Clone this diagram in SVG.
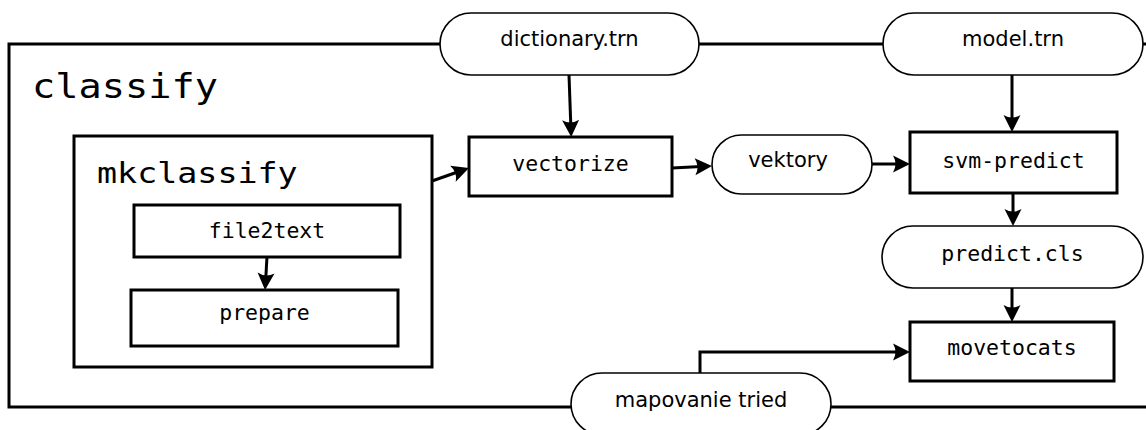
<svg xmlns="http://www.w3.org/2000/svg" width="1146" height="430" viewBox="0 0 1146 430">
<style>
.box{fill:#fff;stroke:#000;stroke-width:3}
.frame{fill:none;stroke:#000;stroke-width:3}
.pill{fill:#fff;stroke:#000;stroke-width:1.6}
.mono{font-family:"DejaVu Sans Mono",monospace;font-size:21.5px;text-anchor:middle;fill:#000}
.sans{font-family:"DejaVu Sans",sans-serif;font-size:21px;text-anchor:middle;fill:#000}
.title{font-family:"DejaVu Sans Mono",monospace;fill:#000}
.conn{fill:none;stroke:#000;stroke-width:3;marker-end:url(#ah)}
</style>
<defs>
<marker id="ah" markerUnits="userSpaceOnUse" viewBox="-14 -10 22 20" refX="0" refY="0" markerWidth="22" markerHeight="20" orient="auto" overflow="visible">
<path d="M6,0 L-11,-8.5 Q-6,0 -11,8.5 Z" fill="#000"/>
</marker>
</defs>
<rect width="1146" height="430" fill="#fff"/>
<g id="classify">
<rect class="frame" x="9" y="44" width="1150" height="363"/>
<text class="title" transform="translate(32,98) scale(1.17,1)" x="0" y="0" font-size="33">classify</text>
</g>
<g id="mkclassify">
<rect class="box" x="74" y="136" width="358" height="231"/>
<text class="title" transform="translate(97,183) scale(1.17,1)" x="0" y="0" font-size="28.5">mkclassify</text>
</g>
<g id="file2text">
<rect class="box" x="134" y="205" width="266" height="52"/>
<text class="mono" x="267" y="238">file2text</text>
</g>
<g id="prepare">
<rect class="box" x="131" y="290" width="267" height="56"/>
<text class="mono" x="264.5" y="320">prepare</text>
</g>
<g id="dictionary">
<rect class="pill" x="440" y="13" width="259" height="62" rx="31"/>
<text class="sans" x="569.5" y="46">dictionary.trn</text>
</g>
<g id="model">
<rect class="pill" x="883" y="13" width="260" height="62" rx="31"/>
<text class="sans" x="1013" y="46">model.trn</text>
</g>
<g id="vectorize">
<rect class="box" x="469" y="137" width="203" height="59"/>
<text class="mono" x="570.5" y="171">vectorize</text>
</g>
<g id="vektory">
<rect class="pill" x="712" y="135" width="160" height="59" rx="29.5"/>
<text class="sans" x="788" y="167">vektory</text>
</g>
<g id="svm-predict">
<rect class="box" x="910" y="132" width="207" height="61"/>
<text class="mono" x="1013.5" y="168">svm-predict</text>
</g>
<g id="predict-cls">
<rect class="pill" x="882" y="226" width="261" height="62" rx="31"/>
<text class="mono" x="1012.5" y="261">predict.cls</text>
</g>
<g id="movetocats">
<rect class="box" x="910" y="322" width="204" height="59"/>
<text class="mono" x="1012" y="355">movetocats</text>
</g>
<g id="mapovanie">
<rect class="pill" x="571" y="373" width="260" height="62" rx="31"/>
<text class="sans" x="701" y="407">mapovanie tried</text>
</g>
<g id="connectors">
<line class="conn" x1="569" y1="75" x2="571" y2="131"/>
<line class="conn" x1="1012" y1="75" x2="1012" y2="126"/>
<line class="conn" x1="432" y1="181" x2="463.3" y2="170"/>
<line class="conn" x1="672" y1="168" x2="706" y2="166.3"/>
<line class="conn" x1="872" y1="164" x2="904" y2="164"/>
<line class="conn" x1="1013" y1="193" x2="1013" y2="220"/>
<line class="conn" x1="1012" y1="288" x2="1012" y2="316"/>
<line class="conn" x1="267" y1="257" x2="265.4" y2="284"/>
<path class="conn" d="M700,373 V352 H904"/>
</g>
</svg>
